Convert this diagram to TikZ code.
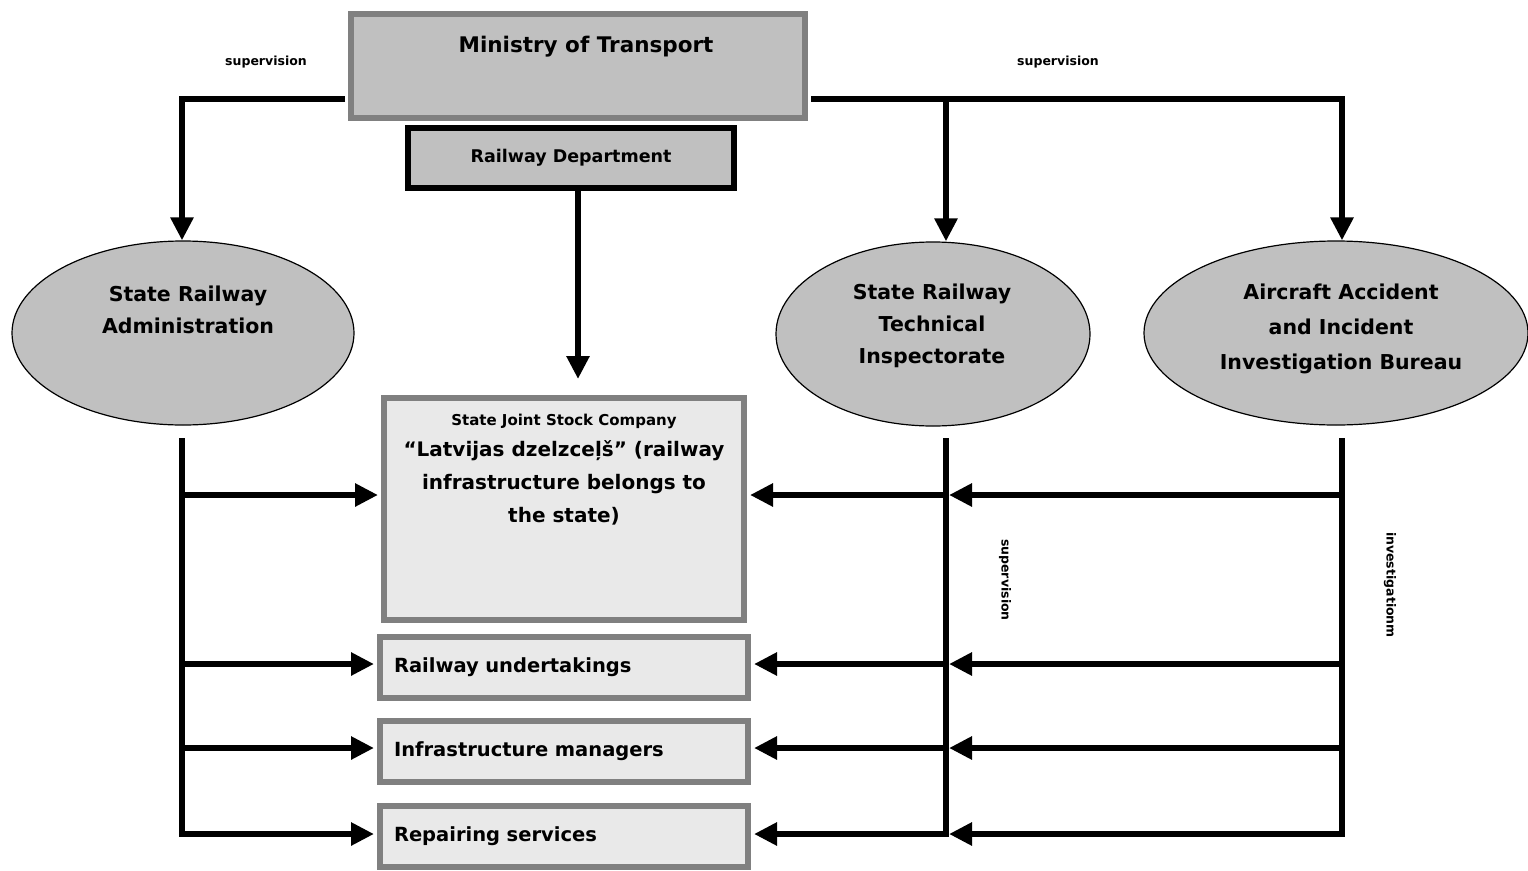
\documentclass[tikz,border=0pt]{standalone}
\usepackage{fontspec}
\setmainfont{DejaVu Sans}
\usetikzlibrary{positioning,calc,arrows.meta,shapes.geometric}
\definecolor{boxgray}{HTML}{808080}
\definecolor{fillgray}{HTML}{C0C0C0}
\definecolor{palegray}{HTML}{E9E9E9}

\begin{document}
\begin{tikzpicture}[x=1pt,y=-1pt,font=\bfseries,
 line/.style={line width=6pt,line cap=rect},
 conn/.style={line width=6pt,-{Triangle[length=23pt,width=22pt]},shorten >=3pt},
 conne/.style={line width=6pt,-{Triangle[length=23pt,width=22pt]}},
 minbox/.style={draw=boxgray,fill=fillgray,line width=6pt,inner sep=0pt},
 rdbox/.style={draw=black,fill=fillgray,line width=6pt,inner sep=0pt,font=\bfseries\fontsize{17.5}{21}\selectfont},
 litebox/.style={draw=boxgray,fill=palegray,line width=6pt,inner sep=0pt},
 unitbox/.style={litebox,minimum width=368pt,minimum height=61pt,text width=340pt,align=left,font=\bfseries\fontsize{19.5}{24}\selectfont},
 ell/.style={ellipse,draw,fill=fillgray,line width=1.2pt,minimum height=184pt,inner sep=0pt},
 etxt/.style={align=center,font=\bfseries\fontsize{20.5}{32}\selectfont},
 lbl/.style={font=\bfseries\fontsize{12.5}{15}\selectfont}]
\useasboundingbox (0,0) rectangle (1528,870);
%ministry and department
\node[minbox,minimum width=454pt,minimum height=104pt] (min) at (578,66) {};
\node[etxt,font=\bfseries\fontsize{21.5}{26}\selectfont] (mintxt) at (586,47) {Ministry of Transport};
\node[rdbox,minimum width=326pt,minimum height=60pt] (rd) at (571,158) {Railway Department};
%bodies
\node[ell,minimum width=342pt] (sra) at (183,333) {};
\node[etxt] (sratxt) at (188,310) {State Railway\\Administration};
\node[ell,minimum width=314pt] (tec) at (933,334) {};
\node[etxt] (tectxt) at (932,326) {State Railway\\Technical\\Inspectorate};
\node[ell,minimum width=384pt] (bur) at (1336,333) {};
\node[etxt,font=\bfseries\fontsize{20.5}{35}\selectfont] (burtxt) at (1341,329) {Aircraft Accident\\and Incident\\Investigation Bureau};
%company and units
\node[litebox,minimum width=360pt,minimum height=222pt] (jsc) at (564,509) {};
\node[font=\bfseries\fontsize{15}{18}\selectfont] (jsctop) at (564,421) {State Joint Stock Company};
\node[align=center,anchor=north,font=\bfseries\fontsize{20}{33}\selectfont] (jsctxt) at (564,437)
 {“Latvijas dzelzceļš” (railway\\infrastructure belongs to\\the state)};
\node[unitbox] (ru) at (564,667) {Railway undertakings};
\node[unitbox] (im) at (564,751) {Infrastructure managers};
\node[unitbox] (rs) at (564,836) {Repairing services};
%labels
\node[lbl] (sup1) at (266,62) {supervision};
\node[lbl] (sup2) at (1058,62) {supervision};
\node[lbl,rotate=-90] (sup3) at (1005,580) {supervision};
\node[lbl,rotate=-90] (inv) at (1390,585) {investigationm};
%supervision from the ministry
\coordinate (jl) at (182,99);
\coordinate (jm) at (946,99);
\coordinate (jr) at (1342,99);
\draw[conne,shorten <=3pt] (min.west |- jl) -- (jl) -- (jl |- sra.north);
\draw[conne,shorten <=3pt] (min.east |- jr) -- (jr) -- (jr |- bur.north);
\draw[conne] (jm) -- (jm |- tec.north);
\draw[conn,shorten >=16pt] ([xshift=7pt]rd.south) -- ([xshift=7pt]rd.south |- jsc.north);
%trees
\coordinate (sraL) at (182,441);
\coordinate (tecL) at (946,441);
\coordinate (burL) at (1342,441);
\coordinate (row1) at (0,495);
\coordinate (row2) at (0,664);
\coordinate (row3) at (0,748);
\coordinate (row4) at (0,834);
\draw[line] (sraL) -- (sraL |- row4);
\draw[line] (tecL) -- (tecL |- row4);
\draw[line] (burL) -- (burL |- row4);
\foreach \b/\r in {jsc/row1,ru/row2,im/row3,rs/row4}{
 \draw[conn] (sraL |- \r) -- (\b.west |- \r);
 \draw[conn] (tecL |- \r) -- (\b.east |- \r);
 \draw[conn] (burL |- \r) -- (tecL |- \r);
}
\end{tikzpicture}
\end{document}
